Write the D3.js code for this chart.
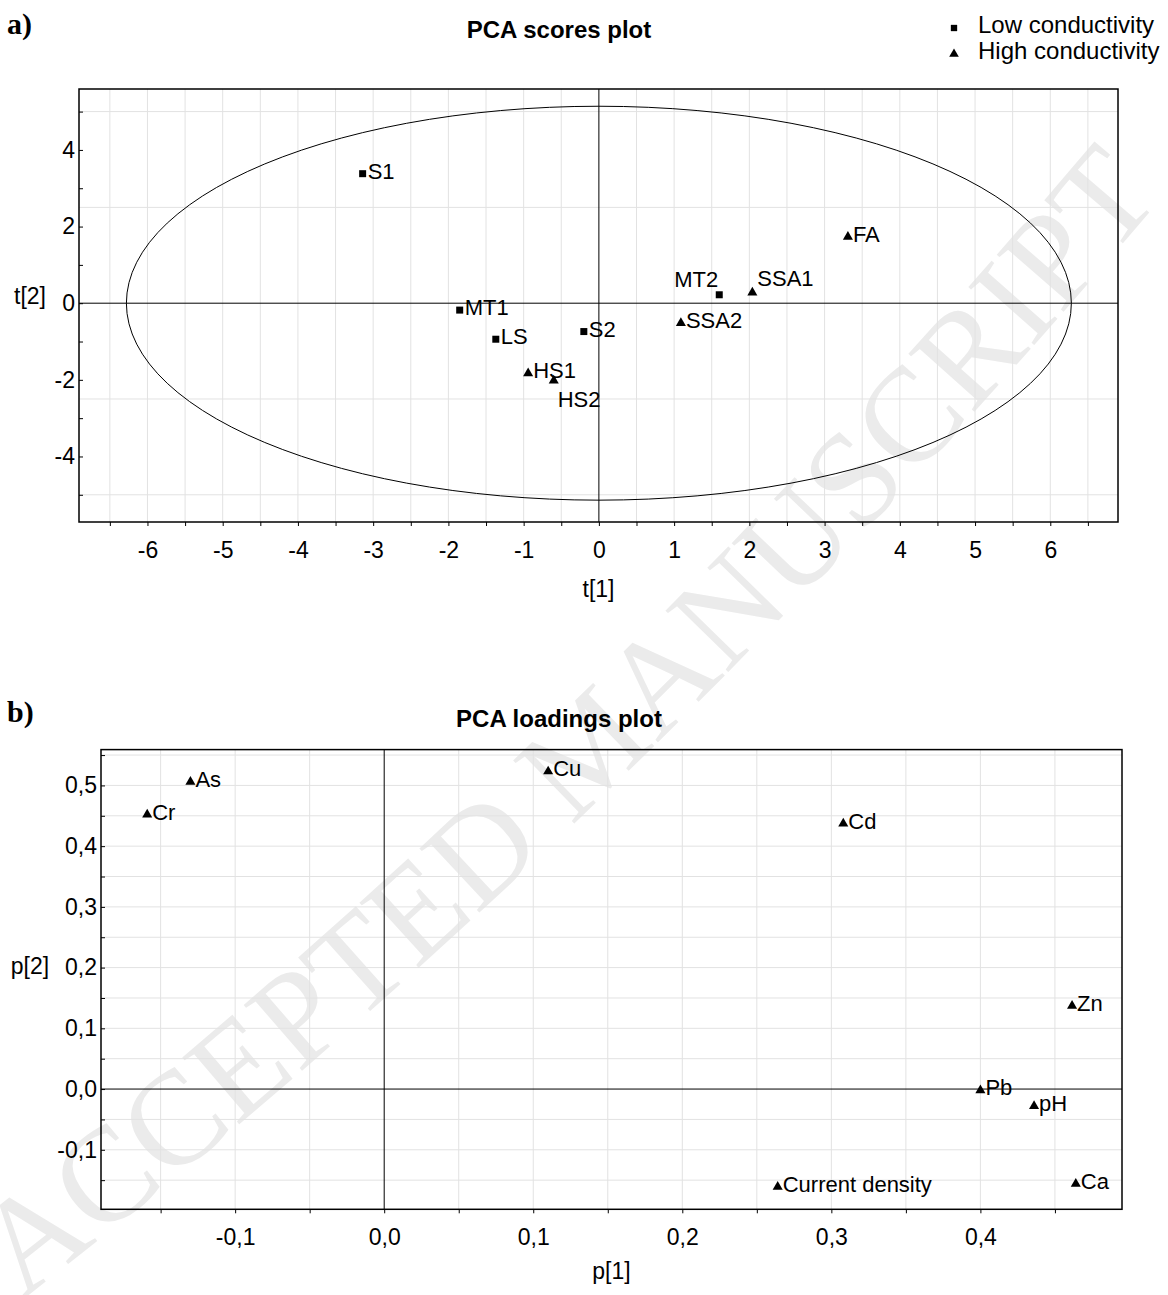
<!DOCTYPE html>
<html>
<head>
<meta charset="utf-8">
<script src="https://cdn.jsdelivr.net/npm/d3@7"></script>
<style>
body { margin: 0; background: #fff; }
text { font-family: "Liberation Sans", Arial, sans-serif; }
</style>
</head>
<body>
<div id="chart"></div>
<script>
////////////////////////////////////////////////////////////
//////////////////////// Data //////////////////////////////
////////////////////////////////////////////////////////////

// a) scores
var scoreNames = ["S1", "MT1", "LS", "S2", "HS1", "HS2", "MT2", "SSA1", "SSA2", "FA"];
var scoreT1 = [-3.14, -1.85, -1.37, -0.20, -0.94, -0.60, 1.60, 2.04, 1.09, 3.31];
var scoreT2 = [3.38, -0.18, -0.94, -0.74, -1.83, -2.02, 0.22, 0.28, -0.52, 1.73];
var scoreGroup = ["low", "low", "low", "low", "high", "high", "low", "high", "high", "high"];
// Hotelling ellipse semi-axes
var ellipseRx = 6.28, ellipseRy = 5.14;

// b) loadings
var loadNames = ["As", "Cr", "Cu", "Cd", "Zn", "Pb", "pH", "Ca", "Current density"];
var loadP1 = [-0.130, -0.159, 0.110, 0.308, 0.4615, 0.400, 0.436, 0.464, 0.264];
var loadP2 = [0.506, 0.452, 0.523, 0.437, 0.137, -0.002, -0.028, -0.156, -0.161];

var legendLabels = ["Low conductivity", "High conductivity"];

////////////////////////////////////////////////////////////
//////////////////////// Set-Up ////////////////////////////
////////////////////////////////////////////////////////////

var svg = d3.select("#chart").append("svg")
	.attr("width", 1168)
	.attr("height", 1295);

var fs = 23;

//faint watermark across the page
svg.append("path")
	.attr("id", "wmPath")
	.attr("d", "M22,1300 Q640,820 1185,170")
	.attr("fill", "none");
svg.append("text")
	.style("font-family", "'Liberation Serif', 'Times New Roman', serif")
	.style("font-size", "134px")
	.attr("fill", "#ebebeb")
	.append("textPath")
	.attr("href", "#wmPath")
	.text("ACCEPTED MANUSCRIPT");

var symSquare = d3.symbol().type(d3.symbolSquare).size(49);
var symTri = d3.symbol().type(d3.symbolTriangle).size(44);

function commaFmt(d) { return d.toFixed(1).replace(".", ","); }

//draws grid, zero lines, frame and axes of one panel
function panel(o) {
	var g = svg.append("g");
	var x = o.x, y = o.y;
	var left = x.range()[0], right = x.range()[1],
		bottom = y.range()[0], top = y.range()[1];

	g.selectAll("line.gx").data(o.gridX).enter().append("line")
		.attr("x1", function(d) { return x(d); }).attr("x2", function(d) { return x(d); })
		.attr("y1", top).attr("y2", bottom)
		.attr("stroke", "#e2e2e2").attr("stroke-width", 1);
	g.selectAll("line.gy").data(o.gridY).enter().append("line")
		.attr("y1", function(d) { return y(d); }).attr("y2", function(d) { return y(d); })
		.attr("x1", left).attr("x2", right)
		.attr("stroke", "#e2e2e2").attr("stroke-width", 1);

	//zero lines
	g.append("line").attr("x1", x(0)).attr("x2", x(0)).attr("y1", top).attr("y2", bottom)
		.attr("stroke", "#000").attr("stroke-width", 1);
	g.append("line").attr("y1", y(0)).attr("y2", y(0)).attr("x1", left).attr("x2", right)
		.attr("stroke", "#000").attr("stroke-width", 1);

	var ax = g.append("g")
		.attr("transform", "translate(0," + bottom + ")")
		.call(d3.axisBottom(x).tickValues(o.ticksX).tickSize(4).tickPadding(15.5).tickFormat(o.fmtX));
	var ay = g.append("g")
		.attr("transform", "translate(" + left + ",0)")
		.call(d3.axisLeft(y).tickValues(o.ticksY).tickSize(-4).tickPadding(4).tickFormat(o.fmtY));
	[ax, ay].forEach(function(a) {
		a.select(".domain").remove();
		a.selectAll("line").attr("stroke", "#000");
		a.selectAll("text").attr("fill", "#000")
			.style("font-family", "'Liberation Sans', Arial, sans-serif")
			.style("font-size", fs + "px");
	});

	g.append("rect")
		.attr("x", left).attr("y", top)
		.attr("width", right - left).attr("height", bottom - top)
		.attr("fill", "none").attr("stroke", "#000").attr("stroke-width", 1.5);

	//titles
	g.append("text").attr("x", 559).attr("y", o.titleY)
		.attr("text-anchor", "middle")
		.style("font-size", "24px").style("font-weight", "bold")
		.text(o.title);
	g.append("text").attr("x", 7).attr("y", o.tagY)
		.style("font-family", "'Liberation Serif', 'Times New Roman', serif")
		.style("font-size", "30px").style("font-weight", "bold")
		.text(o.tag);
	g.append("text").attr("x", (left + right) / 2).attr("y", o.xLabelY)
		.attr("text-anchor", "middle").style("font-size", fs + "px")
		.text(o.xLabel);
	g.append("text").attr("x", 30).attr("y", o.yLabelY)
		.attr("text-anchor", "middle").style("font-size", fs + "px")
		.text(o.yLabel);
	return g;
}

//places a label next to a marker
function placeLabel(sel, px, py, pos) {
	sel.attr("x", px + 5).attr("y", py + 5);
	if (pos === "leftAbove") sel.attr("x", px - 1).attr("y", py - 8).attr("text-anchor", "end");
	if (pos === "above") sel.attr("x", px + 5).attr("y", py - 6);
	if (pos === "below") sel.attr("x", px + 4).attr("y", py + 26);
}

////////////////////////////////////////////////////////////
////////////////////// a) Scores ///////////////////////////
////////////////////////////////////////////////////////////

var xA = d3.scaleLinear().domain([-6.91, 6.90]).range([79, 1118]);
var yA = d3.scaleLinear().domain([-5.71, 5.59]).range([522, 89]);

var gA = panel({
	x: xA, y: yA,
	gridX: d3.range(-13, 14).map(function(i) { return i * 0.5; }).filter(function(d) { return d !== 0; }),
	gridY: [-5, -2.5, 2.5, 5],
	ticksX: d3.range(-13, 14).map(function(i) { return i * 0.5; }),
	ticksY: d3.range(-5, 6),
	fmtX: function(d) { return Number.isInteger(d) ? String(d) : ""; },
	fmtY: function(d) { return d % 2 === 0 ? String(d) : ""; },
	title: "PCA scores plot", titleY: 38,
	tag: "a)", tagY: 34,
	xLabel: "t[1]", xLabelY: 597,
	yLabel: "t[2]", yLabelY: 304
});

//ellipse
var ellLine = d3.line()
	.x(function(a) { return xA(ellipseRx * Math.cos(a)); })
	.y(function(a) { return yA(ellipseRy * Math.sin(a)); });
gA.append("path")
	.attr("d", ellLine(d3.range(0, 361, 3).map(function(deg) { return deg * Math.PI / 180; })))
	.attr("fill", "none").attr("stroke", "#000").attr("stroke-width", 1);

var scoreLabelPos = { "MT2": "leftAbove", "SSA1": "above", "HS2": "below" };

scoreNames.forEach(function(name, i) {
	var px = xA(scoreT1[i]), py = yA(scoreT2[i]);
	gA.append("path")
		.attr("d", scoreGroup[i] === "low" ? symSquare() : symTri())
		.attr("transform", "translate(" + px + "," + py + ")")
		.attr("fill", "#000");
	gA.append("text").style("font-size", "22px")
		.call(placeLabel, px, py, scoreLabelPos[name])
		.text(name);
});

//legend
legendLabels.forEach(function(lab, i) {
	var ly = 33 + i * 26;
	svg.append("path")
		.attr("d", i === 0 ? d3.symbol().type(d3.symbolSquare).size(40)() : d3.symbol().type(d3.symbolTriangle).size(40)())
		.attr("transform", "translate(954," + (ly - 5) + ")")
		.attr("fill", "#000");
	svg.append("text").attr("x", 978).attr("y", ly)
		.style("font-size", "24px")
		.text(lab);
});

////////////////////////////////////////////////////////////
////////////////////// b) Loadings /////////////////////////
////////////////////////////////////////////////////////////

var xB = d3.scaleLinear().domain([-0.190, 0.495]).range([101, 1122]);
var yB = d3.scaleLinear().domain([-0.198, 0.559]).range([1209.3, 749.6]);

var gB = panel({
	x: xB, y: yB,
	gridX: d3.range(-3, 10).map(function(i) { return i * 0.05; }).filter(function(d) { return d !== 0; }),
	gridY: d3.range(-3, 12).map(function(i) { return i * 0.05; }).filter(function(d) { return d !== 0; }),
	ticksX: d3.range(-3, 10).map(function(i) { return i * 0.05; }),
	ticksY: d3.range(-3, 12).map(function(i) { return i * 0.05; }),
	fmtX: function(d) { return Math.abs(Math.round(d * 20)) % 2 === 0 ? commaFmt(d) : ""; },
	fmtY: function(d) { return Math.abs(Math.round(d * 20)) % 2 === 0 ? commaFmt(d) : ""; },
	title: "PCA loadings plot", titleY: 727,
	tag: "b)", tagY: 722,
	xLabel: "p[1]", xLabelY: 1279,
	yLabel: "p[2]", yLabelY: 974
});

loadNames.forEach(function(name, i) {
	var px = xB(loadP1[i]), py = yB(loadP2[i]);
	gB.append("path")
		.attr("d", symTri())
		.attr("transform", "translate(" + px + "," + py + ")")
		.attr("fill", "#000");
	gB.append("text").style("font-size", "22px")
		.call(placeLabel, px, py, null)
		.text(name);
});
</script>
</body>
</html>
